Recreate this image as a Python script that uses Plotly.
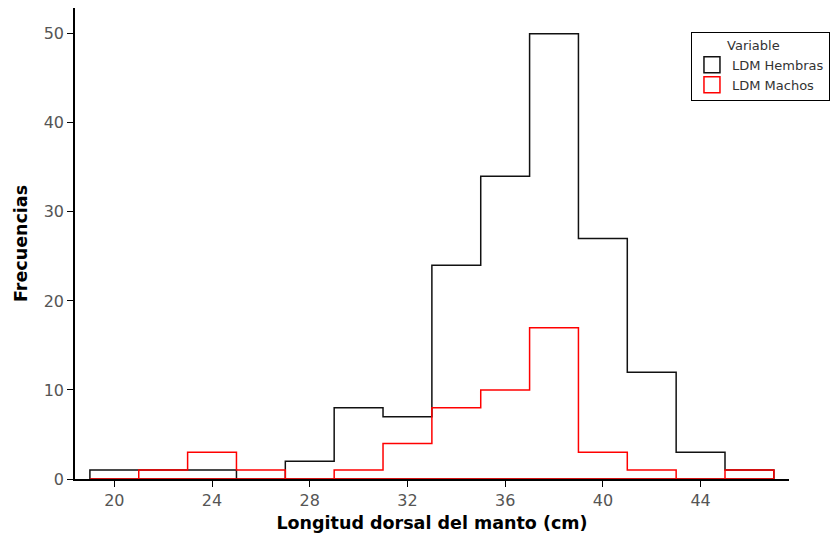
import plotly.graph_objects as go

# Bin edges (cm) and frequency counts for each sex
bin_edges = [19, 21, 23, 25, 27, 29, 31, 33, 35, 37, 39, 41, 43, 45, 47]
hembras = [1, 1, 1, 0, 2, 8, 7, 24, 34, 50, 27, 12, 3, 1]
machos = [0, 1, 3, 1, 0, 1, 4, 8, 10, 17, 3, 1, 0, 1]

x_ticks = [20, 24, 28, 32, 36, 40, 44]
y_ticks = [0, 10, 20, 30, 40, 50]

series = [("LDM Hembras", hembras, "#111111"), ("LDM Machos", machos, "#ff0000")]


def step_outline(edges, counts):
    """Closed step outline of a histogram, used with line_shape='hv'."""
    xs = [edges[0], edges[0]] + edges[1:-1] + [edges[-1], edges[0]]
    ys = [0] + list(counts) + [0, 0]
    return xs, ys


fig = go.Figure()
for name, counts, color in series:
    xs, ys = step_outline(bin_edges, counts)
    fig.add_trace(go.Scatter(
        x=xs, y=ys, mode="lines", line=dict(color=color, width=1.5, shape="hv"),
        showlegend=False, hoverinfo="skip",
    ))

# Legend entries drawn as open squares
for name, counts, color in series:
    fig.add_trace(go.Scatter(
        x=[None], y=[None], mode="markers", name=name,
        marker=dict(symbol="square-open", size=16, color=color, line=dict(width=1.5)),
    ))

tick_font = dict(family="DejaVu Sans", size=16, color="#555555")
title_font = dict(family="DejaVu Sans", size=17.5, color="#000000")

fig.update_layout(
    width=830, height=540,
    margin=dict(l=75, r=41, t=8, b=61, autoexpand=False),
    paper_bgcolor="white", plot_bgcolor="white",
    xaxis=dict(
        range=[18.39, 47.62], tickvals=x_ticks, ticks="outside", ticklen=6, tickwidth=1.2,
        tickcolor="#000", showline=True, linecolor="#000", linewidth=1.5,
        showgrid=False, zeroline=False, tickfont=tick_font,
        title=dict(text="<b>Longitud dorsal del manto (cm)</b>", font=title_font, standoff=8),
    ),
    yaxis=dict(
        range=[0, 52.9], tickvals=y_ticks, ticks="outside", ticklen=6, tickwidth=1.2,
        tickcolor="#000", showline=True, linecolor="#000", linewidth=1.5,
        showgrid=False, zeroline=False, tickfont=tick_font,
        title=dict(text="<b>Frecuencias</b>", font=title_font, standoff=12),
    ),
    legend=dict(
        x=0.8627, y=0.949, xanchor="left", yanchor="top",
        bordercolor="#000", borderwidth=1, bgcolor="white",
        font=dict(family="DejaVu Sans", size=13, color="#333333"),
        title=dict(text="\u00a0" * 8 + "Variable",
                   font=dict(family="DejaVu Sans", size=13, color="#333333")),
        itemsizing="trace",
    ),
)

fig.write_html("out.html")
